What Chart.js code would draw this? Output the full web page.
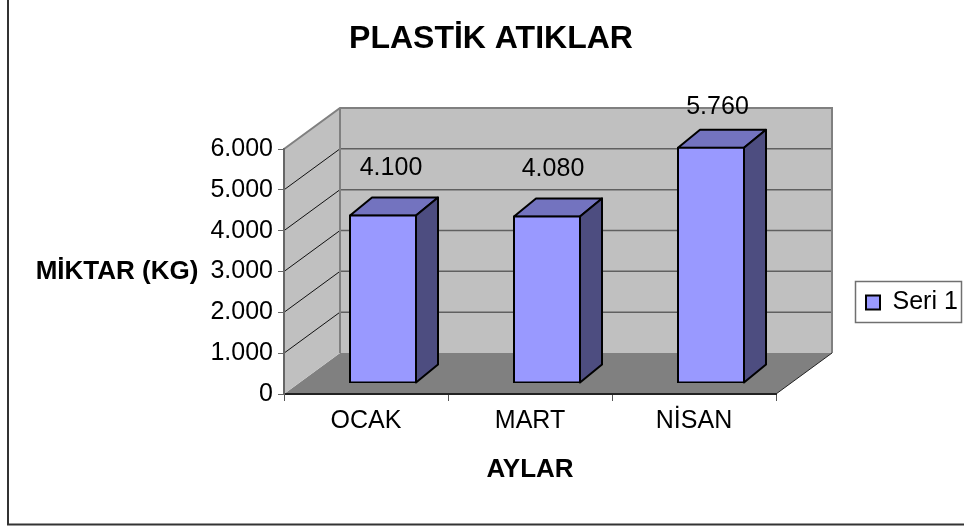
<!DOCTYPE html>
<html>
<head>
<meta charset="utf-8">
<style>
  html, body { margin: 0; padding: 0; background: #fff; }
  canvas { display: block; }
</style>
<script src="https://cdn.jsdelivr.net/npm/chart.js@4"></script>
</head>
<body>
<canvas id="bar-canvas" width="964" height="526"></canvas>
<script>
var categories = ["OCAK", "MART", "NİSAN"];
var values = [4100, 4080, 5760];
var seriesName = "Seri 1";
var titleText = "PLASTİK ATIKLAR";
var yTitle = "MİKTAR (KG)";
var xTitle = "AYLAR";

var FONT = '"Liberation Sans", Arial, sans-serif';

function dotted(v) {
  return v === 0 ? "0" : String(v).replace(/\B(?=(\d{3})+$)/g, ".");
}

// depth of the fake 3d box and of the bars in it
var wallDx = 56, wallDy = -41;
var barDx = 17, barDy = -11;
var sideDx = 22, sideDy = -18;

function poly(ctx, pts, fill, stroke, lw) {
  ctx.beginPath();
  pts.forEach(function (p, i) {
    if (i == 0) ctx.moveTo(p[0], p[1]); else ctx.lineTo(p[0], p[1]);
  });
  ctx.closePath();
  if (fill) { ctx.fillStyle = fill; ctx.fill(); }
  if (stroke) { ctx.strokeStyle = stroke; ctx.lineWidth = lw; ctx.lineJoin = "round"; ctx.stroke(); }
}

var box3d = {
  id: "box3d",
  afterLayout: function (chart) {
    // legend sits by itself on the right
    var l = chart.legend;
    var w = l.right - l.left, h = l.bottom - l.top;
    l.left = 858; l.right = 858 + w; l.top = 282; l.bottom = 282 + h;
  },
  beforeDraw: function (chart) {
    var ctx = chart.ctx, a = chart.chartArea, ys = chart.scales.y;
    var L = a.left, R = a.right, T = ys.getPixelForValue(6000), B = ys.getPixelForValue(0);
    ctx.save();
    // outer frame, only left and bottom show
    ctx.strokeStyle = "#333";
    ctx.lineWidth = 2;
    ctx.beginPath();
    ctx.moveTo(8, 0);
    ctx.lineTo(8, 524.5);
    ctx.lineTo(964, 524.5);
    ctx.stroke();
    // floor
    poly(ctx, [[L, B], [R, B], [R + wallDx, B + wallDy], [L + wallDx, B + wallDy]], "#808080");
    // left wall
    poly(ctx, [[L, B], [L + wallDx, B + wallDy], [L + wallDx, T + wallDy], [L, T]], "#c0c0c0");
    // back wall
    poly(ctx, [[L + wallDx, B + wallDy], [R + wallDx, B + wallDy], [R + wallDx, T + wallDy], [L + wallDx, T + wallDy]], "#c0c0c0");
    // grid lines on both walls
    ys.ticks.forEach(function (t) {
      var y = ys.getPixelForValue(t.value);
      if (t.value == 6000 || t.value == 0) return;
      ctx.beginPath();
      ctx.moveTo(L + wallDx, y + wallDy);
      ctx.lineTo(R + wallDx, y + wallDy);
      ctx.strokeStyle = "#606060";
      ctx.lineWidth = 1.5;
      ctx.stroke();
      ctx.beginPath();
      ctx.moveTo(L, y);
      ctx.lineTo(L + wallDx, y + wallDy);
      ctx.strokeStyle = "#111";
      ctx.lineWidth = 1;
      ctx.stroke();
    });
    // wall outlines
    ctx.strokeStyle = "#808080";
    ctx.lineWidth = 2;
    ctx.beginPath();
    ctx.moveTo(L, T);
    ctx.lineTo(L + wallDx, T + wallDy);
    ctx.lineTo(R + wallDx, T + wallDy);
    ctx.lineTo(R + wallDx, B + wallDy);
    ctx.moveTo(L + wallDx, T + wallDy);
    ctx.lineTo(L + wallDx, B + wallDy);
    ctx.stroke();
    // floor front right edge
    ctx.strokeStyle = "#222";
    ctx.lineWidth = 1;
    ctx.beginPath();
    ctx.moveTo(R, B);
    ctx.lineTo(R + wallDx, B + wallDy);
    ctx.stroke();
    ctx.restore();
  },
  beforeDatasetsDraw: function (chart) {
    var ctx = chart.ctx;
    ctx.save();
    ctx.translate(barDx, barDy);
    chart.getDatasetMeta(0).data.forEach(function (bar) {
      var x1 = bar.x - bar.width / 2, x2 = bar.x + bar.width / 2;
      var t = bar.y, b = bar.base;
      // top and side face, the front is the real bar
      poly(ctx, [[x1, t], [x1 + sideDx, t + sideDy], [x2 + sideDx, t + sideDy], [x2, t]], "#7373bf", "#000", 2);
      poly(ctx, [[x2, t], [x2 + sideDx, t + sideDy], [x2 + sideDx, b + sideDy], [x2, b]], "#4d4d80", "#000", 2);
    });
  },
  afterDatasetsDraw: function (chart) {
    var ctx = chart.ctx;
    ctx.restore();
    ctx.save();
    // value labels
    var shift = [[25, -47], [23, -47], [23.5, -41]];
    ctx.font = "25px " + FONT;
    ctx.fillStyle = "#000";
    ctx.textAlign = "center";
    ctx.textBaseline = "middle";
    chart.getDatasetMeta(0).data.forEach(function (bar, i) {
      ctx.fillText(dotted(values[i]), bar.x + shift[i][0], bar.y + barDy + shift[i][1]);
    });
    // horizontal y axis title
    ctx.font = "bold 26px " + FONT;
    var ys = chart.scales.y;
    ctx.fillText(yTitle, 117, ys.getPixelForValue(3000) + 0.5);
    // legend box
    ctx.strokeStyle = "#707070";
    ctx.lineWidth = 1.5;
    ctx.strokeRect(855.5, 281.5, 106, 41);
    ctx.restore();
  }
};

var ctx = document.getElementById("bar-canvas");

var chartData = {
  labels: categories,
  datasets: [{
    label: seriesName,
    data: values,
    backgroundColor: "#9999ff",
    borderColor: "#000",
    borderWidth: 2,
    borderSkipped: false,
    inflateAmount: 1,
    barThickness: 66
  }]
};

var options = {
  responsive: false,
  animation: false,
  layout: { padding: { left: 206, right: 188, top: 0, bottom: 41 } },
  plugins: {
    title: {
      display: true,
      text: titleText,
      color: "#000",
      font: { family: FONT, size: 32, weight: "bold" },
      padding: { top: 20, bottom: 90.6 }
    },
    legend: {
      position: "chartArea",
      align: "start",
      labels: {
        color: "#000",
        font: { family: FONT, size: 25 },
        boxWidth: 14,
        boxHeight: 14,
        padding: 8
      }
    },
    tooltip: { enabled: false }
  },
  scales: {
    x: {
      grid: { drawOnChartArea: false, color: "#555", tickLength: 7, offset: true },
      border: { color: "#222", width: 2 },
      ticks: { color: "#000", font: { family: FONT, size: 25 }, padding: 5, maxRotation: 0 },
      title: {
        display: true,
        text: xTitle,
        color: "#000",
        font: { family: FONT, size: 26, weight: "bold" },
        padding: { top: 10, bottom: 0 }
      },
      afterFit: function (s) { s.height = 91; }
    },
    y: {
      min: 0,
      max: 6000,
      grid: { drawOnChartArea: false, color: "#666", tickLength: 6 },
      border: { color: "#666", width: 2 },
      ticks: {
        stepSize: 1000,
        color: "#000",
        font: { family: FONT, size: 25 },
        padding: 5,
        callback: function (v) { return dotted(v); }
      },
      afterFit: function (s) { s.width = 78; }
    }
  }
};

var chart = new Chart(ctx, {
  type: "bar",
  data: chartData,
  options: options,
  plugins: [box3d]
});
</script>
</body>
</html>
